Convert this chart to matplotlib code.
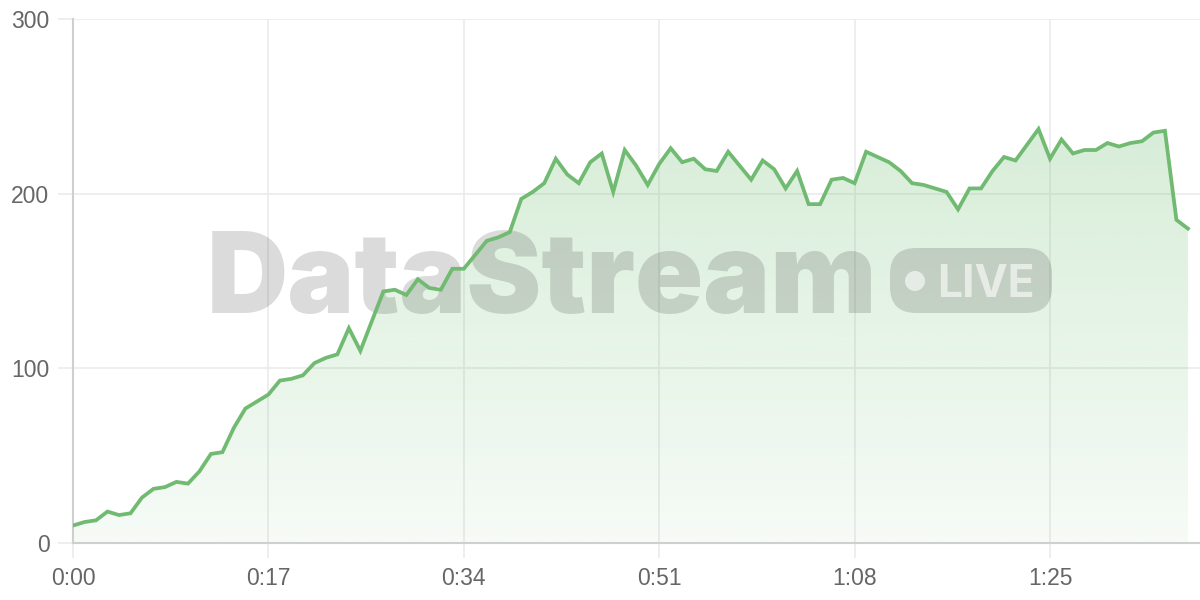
import numpy as np
import matplotlib
matplotlib.use("Agg")
import matplotlib.pyplot as plt
from matplotlib.patches import FancyBboxPatch, Circle

# 数据：每秒一个采样点
seconds = list(range(98))
values = [10, 12, 13, 18, 16, 17, 26, 31, 32, 35,
          34, 41, 51, 52, 66, 77, 81, 85, 93, 94,
          96, 103, 106, 108, 123, 110, 127, 144, 145, 142,
          151, 146, 145, 157, 157, 165, 173, 175, 178, 197,
          201, 206, 220, 211, 206, 218, 223, 201, 225, 216,
          205, 217, 226, 218, 220, 214, 213, 224, 216, 208,
          219, 214, 203, 213, 194, 194, 208, 209, 206, 224,
          221, 218, 213, 206, 205, 203, 201, 191, 203, 203,
          213, 221, 219, 228, 237, 220, 231, 223, 225, 225,
          229, 227, 229, 230, 235, 236, 185, 180]
x_ticks = [0, 17, 34, 51, 68, 85]
x_tick_labels = ["0:00", "0:17", "0:34", "0:51", "1:08", "1:25"]
y_ticks = [0, 100, 200, 300]

LINE = "#70ba71"
GRID = "#ebebeb"
AXIS = "#cfcfcf"
TEXT = "#666666"

plt.rcParams["font.family"] = ["Liberation Sans", "DejaVu Sans"]

fig = plt.figure(figsize=(12, 6), dpi=100)
ax = fig.add_axes([73 / 1200, 57 / 600, 1127 / 1200, 524 / 600])

x = np.array(seconds)
y = np.array(values)

# 渐变填充
poly = ax.fill_between(x, y, 0, color="none", lw=0)
top = y.max()
n = 256
alpha = np.linspace(0.06, 0.26, n)[:, None]
grad = np.zeros((n, 1, 4))
grad[..., 0] = 0x66 / 255
grad[..., 1] = 0xbb / 255
grad[..., 2] = 0x6a / 255
grad[..., 3] = alpha
img = ax.imshow(grad, extent=[x[0], x[-1], 0, top], origin="lower",
                aspect="auto", zorder=1)
img.set_clip_path(poly.get_paths()[0], transform=ax.transData)

ax.plot(x, y, color=LINE, lw=2.7, zorder=5, solid_joinstyle="miter")

ax.set_xlim(0, 98.05)
ax.set_ylim(0, 300)
ax.set_xticks(x_ticks)
ax.set_xticklabels(x_tick_labels)
ax.set_yticks(y_ticks)
ax.grid(True, color=GRID, lw=1.2, zorder=0)
ax.set_axisbelow(True)
ax.tick_params(axis="both", length=11, width=1.2, color=GRID,
               labelsize=16.5, labelcolor=TEXT)
ax.tick_params(axis="x", pad=6)
ax.tick_params(axis="y", pad=6)
for s in ["top", "right"]:
    ax.spines[s].set_visible(False)
ax.spines["left"].set_color(AXIS)
ax.spines["bottom"].set_color(AXIS)
ax.spines["left"].set_linewidth(1.5)
ax.spines["bottom"].set_linewidth(1.5)

# 水印（放在坐标轴内，线条之下）
ax.text(207 / 1200, 1 - 313 / 600, "DataStream", fontsize=81,
        family=["Inter", "DejaVu Sans"], weight="black",
        color="black", alpha=0.14, va="baseline", ha="left", zorder=3,
        transform=fig.transFigure, clip_on=False)
box = FancyBboxPatch((8.90, 2.87), 1.62, 0.65,
                     boxstyle="round,pad=0,rounding_size=0.26",
                     transform=fig.dpi_scale_trans, facecolor="black",
                     edgecolor="none", alpha=0.14, zorder=3, clip_on=False)
ax.add_artist(box)
dot = Circle((9.15, 3.19), 0.10, transform=fig.dpi_scale_trans,
             facecolor="white", edgecolor="none", alpha=0.6, zorder=3,
             clip_on=False)
ax.add_artist(dot)
ax.text(9.37 / 12, 1 - 297 / 600, "LIVE", fontsize=32,
        family=["Inter", "DejaVu Sans"], weight="bold",
        color="white", alpha=0.6, va="baseline", ha="left", zorder=3,
        transform=fig.transFigure, clip_on=False)

fig.savefig("out.png", dpi=100)
